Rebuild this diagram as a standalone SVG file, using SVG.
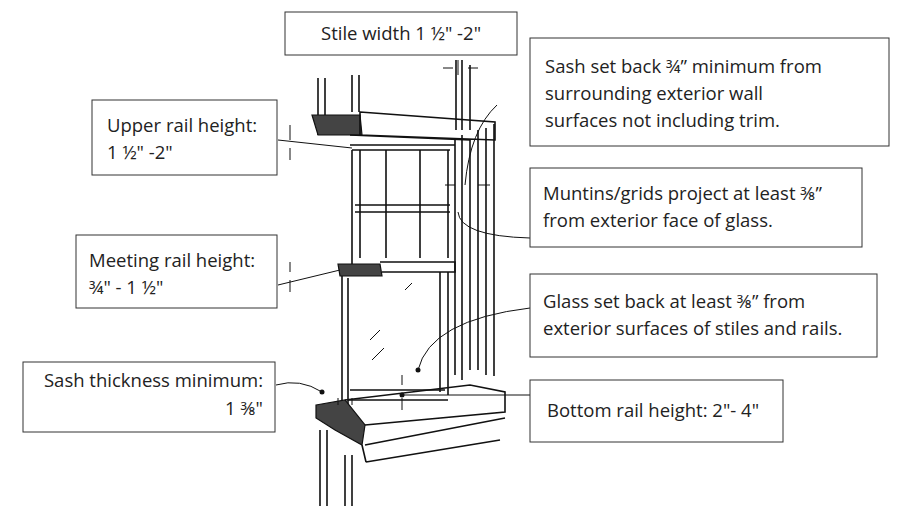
<svg xmlns="http://www.w3.org/2000/svg" width="900" height="506" viewBox="0 0 900 506">
<style>
.box{fill:#fff;stroke:#333;stroke-width:1}
.t{font-family:"Open Sans","Liberation Sans",sans-serif;font-size:18.5px;fill:#222}
.d{fill:none;stroke:#111;stroke-width:1.6}
.th{fill:none;stroke:#111;stroke-width:1}
.hatch{fill:#444;stroke:#111;stroke-width:1.2}
</style>
<rect width="900" height="506" fill="#fff"/>
<g id="drawing">
<path class="d" d="M318,78V135 M325,78V135 M352,75V112 M359,75V112 M320,430V506 M327,430V506 M345,455V506 M352,455V506"/>
<path class="hatch" d="M312,115H360L362,135H318Z" fill="#666"/>
<path class="d" d="M360,112L495,122V140L360,135Z M350,135L470,140"/>
<path class="d" d="M455,138V375 M462,135V380 M470,140V370 M478,130V370 M486,128V375 M494,124V376 M456,60V130 M462,60V130 M470,65V130"/>
<path class="d" d="M350,145H455 M352,150H450 M352,150V265 M360,150V258 M448,150V258 M386,150V258 M420,150V258 M355,205H450 M355,212H450"/>
<path class="hatch" d="M338,264H380L382,276H340Z"/>
<path class="d" d="M380,262H455V272H382"/>
<path class="d" d="M342,276V405 M348,278V405 M440,272V392 M448,272V395 M350,390H445 M348,400H448"/>
<path class="th" d="M370,340L380,330 M372,360L384,348 M405,290L412,283"/>
<path class="hatch" d="M316,405L345,400L365,425L362,445L335,430L316,418Z"/>
<path class="d" d="M345,400L470,385L505,392V412L365,425 M365,445L505,418 M362,445L366,462 M366,462L500,440"/>
</g>
<g id="connectors">
<path class="th" d="M278,140L352,148 M278,285L340,270 M290,125V140 M290,148V160 M290,262V272 M290,280V292 M276,385Q300,378 322,392 M458,60V75 M453,68H443 M468,68H478 M497,105Q470,130 465,185 M455,185H445 M478,185H490 M530,238Q460,236 458,212 M530,308Q430,320 418,370 M530,395L402,395 M402,375V385 M402,398V410 M338,398V405 M352,398V405"/>
<circle cx="322" cy="392" r="2.5" fill="#111"/>
<circle cx="418" cy="370" r="2.5" fill="#111"/>
<circle cx="402" cy="395" r="2.5" fill="#111"/>
</g>
<g id="stile"><rect class="box" x="285" y="12" width="232" height="43"/><text class="t" x="401" y="40" text-anchor="middle">Stile width 1 ½" -2"</text></g>
<g id="sashset"><rect class="box" x="530" y="38" width="359" height="108"/><text class="t" x="545" y="73">Sash set back ¾” minimum from</text><text class="t" x="545" y="100">surrounding exterior wall</text><text class="t" x="545" y="127">surfaces not including trim.</text></g>
<g id="muntins"><rect class="box" x="530" y="168" width="332" height="79"/><text class="t" x="543" y="200">Muntins/grids project at least ⅜”</text><text class="t" x="543" y="227">from exterior face of glass.</text></g>
<g id="glass"><rect class="box" x="530" y="274" width="347" height="83"/><text class="t" x="543" y="308">Glass set back at least ⅜” from</text><text class="t" x="543" y="335">exterior surfaces of stiles and rails.</text></g>
<g id="bottom"><rect class="box" x="530" y="380" width="253" height="62"/><text class="t" x="547" y="417">Bottom rail height: 2"- 4"</text></g>
<g id="upper"><rect class="box" x="92" y="100" width="185" height="75"/><text class="t" x="107" y="132">Upper rail height:</text><text class="t" x="107" y="159"> 1 ½" -2"</text></g>
<g id="meeting"><rect class="box" x="76" y="235" width="201" height="73"/><text class="t" x="89" y="267">Meeting rail height:</text><text class="t" x="89" y="294"> ¾" - 1 ½"</text></g>
<g id="thick"><rect class="box" x="23" y="362" width="252" height="70"/><text class="t" x="263" y="387" text-anchor="end">Sash thickness minimum:</text><text class="t" x="263" y="415" text-anchor="end">1 ⅜"</text></g>
</svg>
